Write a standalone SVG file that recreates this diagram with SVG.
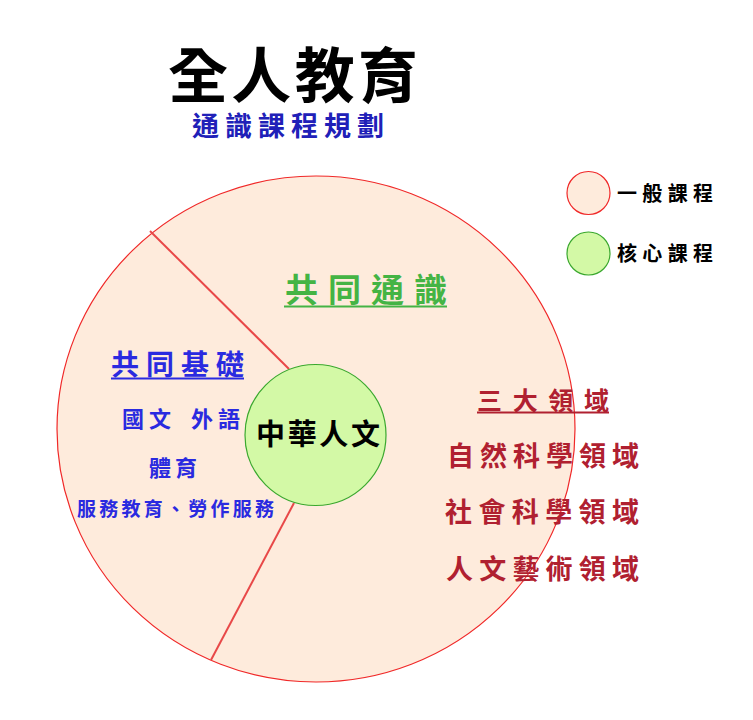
<svg xmlns="http://www.w3.org/2000/svg" width="753" height="720" viewBox="0 0 753 720">
<style>
text{font-family:"Noto Sans CJK TC","Noto Sans CJK SC",sans-serif;font-weight:bold;}
.gen{fill:#feebdc;stroke:#f02828;stroke-width:1.2;}
.core{fill:#d3f9a6;stroke:#3aa82e;stroke-width:1.2;}
.div{stroke:#e84848;stroke-width:2;}
.blue{fill:#2a2ae0;}
.red{fill:#b02030;}
.green{fill:#44b444;}
</style>
<rect width="753" height="720" fill="#ffffff"/>
<g id="title">
<text x="168" y="98" font-size="60" fill="#000" textLength="250" lengthAdjust="spacing">全人教育</text>
<text x="192" y="136" font-size="27" fill="#2020b8" textLength="192" lengthAdjust="spacing">通識課程規劃</text>
</g>
<g id="legend">
<circle class="gen" cx="588.5" cy="193" r="21.5"/>
<text x="617" y="201" font-size="20" fill="#000" textLength="96" lengthAdjust="spacing">一般課程</text>
<circle class="core" cx="588.5" cy="253.5" r="21.5"/>
<text x="617" y="261" font-size="20" fill="#000" textLength="96" lengthAdjust="spacing">核心課程</text>
</g>
<g id="general">
<ellipse class="gen" cx="316" cy="429" rx="259" ry="253"/>
</g>
<g id="connectors">
<line class="div" x1="150" y1="231" x2="289" y2="369"/>
<line class="div" x1="294" y1="503" x2="211" y2="660"/>
</g>
<g id="common-general">
<text class="green" x="285" y="302" font-size="33" textLength="162" lengthAdjust="spacing">共同通識</text>
<line x1="284" y1="306.5" x2="447" y2="306.5" stroke="#44b444" stroke-width="2"/>
</g>
<g id="common-basic">
<text class="blue" x="111" y="375" font-size="28" textLength="133" lengthAdjust="spacing">共同基礎</text>
<line x1="111" y1="378.5" x2="244" y2="378.5" stroke="#2a2ae0" stroke-width="1.8"/>
<text class="blue" y="427" font-size="22" letter-spacing="5"><tspan x="122">國文 </tspan><tspan x="191">外語</tspan></text>
<text class="blue" x="149" y="476" font-size="22" letter-spacing="4">體育</text>
<text class="blue" x="77" y="516" font-size="19" textLength="197" lengthAdjust="spacing">服務教育、勞作服務</text>
</g>
<g id="core">
<circle class="core" cx="315.5" cy="435" r="70.5"/>
<text x="256" y="445" font-size="29" fill="#000" textLength="124" lengthAdjust="spacing">中華人文</text>
</g>
<g id="three-domains">
<text class="red" x="477" y="410" font-size="25" textLength="132" lengthAdjust="spacing">三大領域</text>
<line x1="477" y1="412.5" x2="609" y2="412.5" stroke="#b02030" stroke-width="1.8"/>
<text class="red" x="447" y="466" font-size="27" textLength="192" lengthAdjust="spacing">自然科學領域</text>
<text class="red" x="445" y="522" font-size="27" textLength="194" lengthAdjust="spacing">社會科學領域</text>
<text class="red" x="446" y="579" font-size="27" textLength="193" lengthAdjust="spacing">人文藝術領域</text>
</g>
</svg>
